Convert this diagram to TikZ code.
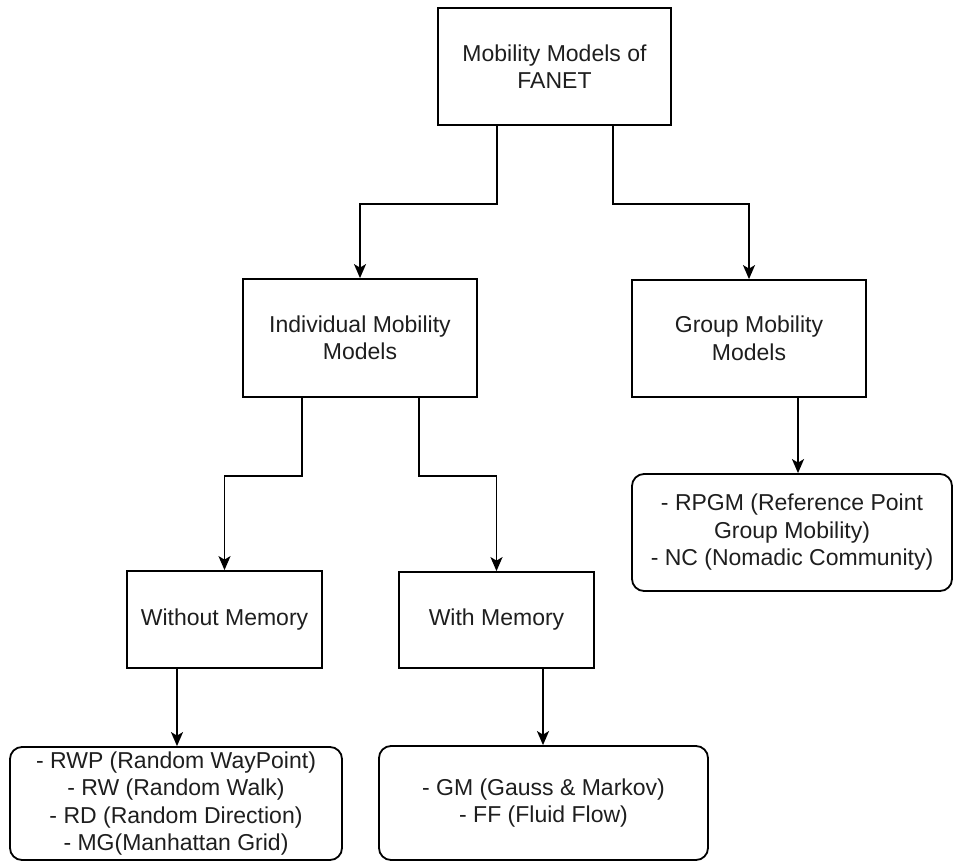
\documentclass[tikz,border=0pt]{standalone}
\usepackage{fontspec}
\setmainfont{Liberation Sans}
\usetikzlibrary{arrows.meta}
\definecolor{txt}{HTML}{1E1E1E}
\begin{document}
\begin{tikzpicture}[x=1pt,y=-1pt,
  box/.style={draw, line width=1.8pt, align=center, inner sep=0pt, text=txt, font=\fontsize{23}{27.5}\selectfont},
  leaf/.style={box, rounded corners=12pt},
  arr/.style={line width=1.8pt, -{Stealth[length=14pt,width=12pt,inset=3.5pt]}}]
\useasboundingbox (0,0) rectangle (954,861);
\node[box, minimum width=233pt, minimum height=117pt] (top) at (554.5,66.5) {Mobility Models of\\FANET};
\node[box, minimum width=234pt, minimum height=118pt] (ind) at (360,338) {Individual Mobility\\Models};
\node[box, minimum width=234pt, minimum height=117pt] (grp) at (749,338.5) {Group Mobility\\Models};
\node[box, minimum width=195pt, minimum height=97pt] (wo) at (224.5,619.5) {Without Memory};
\node[box, minimum width=195pt, minimum height=96pt] (wi) at (496.5,620) {With Memory};
\node[leaf, minimum width=332pt, minimum height=113pt] (l1) at (176,803.5) {- RWP (Random WayPoint)\\- RW (Random Walk)\\- RD (Random Direction)\\- MG(Manhattan Grid)};
\node[leaf, minimum width=329pt, minimum height=114pt] (l2) at (543.5,803) {- GM (Gauss \& Markov)\\- FF (Fluid Flow)};
\node[leaf, minimum width=320pt, minimum height=117pt] (l3) at (792,532.5) {- RPGM (Reference Point\\Group Mobility)\\- NC (Nomadic Community)};
\draw[arr] ([xshift=-57.5pt]top.south) -- ++(0,78) -| (ind.north);
\draw[arr] ([xshift=58.5pt]top.south) -- ++(0,78) -| (grp.north);
\draw[arr] ([xshift=-58pt]ind.south) -- ++(0,78) -| (wo.north);
\draw[arr] ([xshift=59pt]ind.south) -- ++(0,78) -| (wi.north);
\draw[arr] ([xshift=49pt]grp.south) -- ([xshift=49pt]grp.south |- l3.north);
\draw[arr] ([xshift=-47.5pt]wo.south) -- ([xshift=-47.5pt]wo.south |- l1.north);
\draw[arr] ([xshift=46.5pt]wi.south) -- ([xshift=46.5pt]wi.south |- l2.north);
\end{tikzpicture}
\end{document}
